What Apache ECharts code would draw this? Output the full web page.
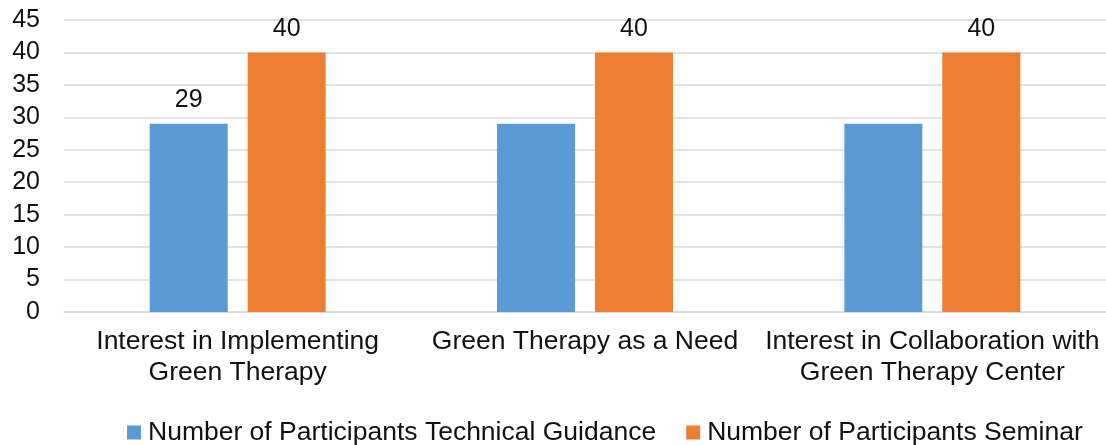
<!DOCTYPE html>
<html>
<head>
<meta charset="utf-8">
<script src="https://cdn.jsdelivr.net/npm/echarts@6/dist/echarts.min.js"></script>
<style>
  html, body { margin: 0; padding: 0; background: #ffffff; }
  #chart { width: 1106px; height: 445px; }
</style>
</head>
<body>
<div id="chart"></div>
<script>
// Survey categories (wrapped onto two lines where the label is long)
const categories = [
  'Interest in Implementing\nGreen Therapy',
  'Green Therapy as a Need',
  'Interest in Collaboration with\nGreen Therapy Center'
];
const seriesNames = [
  'Number of Participants Technical Guidance',
  'Number of Participants Seminar'
];
const technicalGuidance = [29, 29, 29];
const seminar = [40, 40, 40];
// Which bars carry a value label
const guidanceLabelShown = [true, false, false];
const seminarLabelShown = [true, true, true];

const FONT = '"Liberation Sans", Arial, sans-serif';
const TEXT = '#111111';

function withLabels(values, shown) {
  return values.map((v, i) => ({ value: v, label: { show: shown[i] } }));
}

const chart = echarts.init(document.getElementById('chart'), null, { renderer: 'canvas' });
chart.setOption({
  animation: false,
  backgroundColor: '#ffffff',
  textStyle: { fontFamily: FONT },
  grid: { left: 64, right: 0, top: 20, bottom: 133, containLabel: false },
  legend: {
    top: 414,
    left: 122,
    icon: 'rect',
    itemWidth: 14,
    itemHeight: 14,
    itemGap: 30,
    textStyle: { fontFamily: FONT, fontSize: 26.5, color: TEXT, padding: [0, 0, 0, 2] },
    data: seriesNames
  },
  xAxis: {
    type: 'category',
    data: categories,
    axisLine: { lineStyle: { color: '#d9d9d9', width: 1.5 } },
    axisTick: { show: false },
    axisLabel: { fontFamily: FONT, fontSize: 26.5, color: TEXT, lineHeight: 31, margin: 14, interval: 0 }
  },
  yAxis: {
    type: 'value',
    min: 0,
    max: 45,
    interval: 5,
    axisLine: { show: false },
    axisTick: { show: false },
    splitLine: { lineStyle: { color: '#d9d9d9', width: 1.5 } },
    axisLabel: { fontFamily: FONT, fontSize: 25, color: TEXT, margin: 24 }
  },
  series: [
    {
      name: seriesNames[0],
      type: 'bar',
      barWidth: 78,
      barGap: '25.6%',
      itemStyle: { color: '#5B9BD5' },
      label: { position: 'top', distance: 11, fontFamily: FONT, fontSize: 25, color: TEXT },
      data: withLabels(technicalGuidance, guidanceLabelShown)
    },
    {
      name: seriesNames[1],
      type: 'bar',
      barWidth: 78,
      barGap: '25.6%',
      itemStyle: { color: '#ED7D31' },
      label: { position: 'top', distance: 11, fontFamily: FONT, fontSize: 25, color: TEXT },
      data: withLabels(seminar, seminarLabelShown)
    }
  ]
});
</script>
</body>
</html>
